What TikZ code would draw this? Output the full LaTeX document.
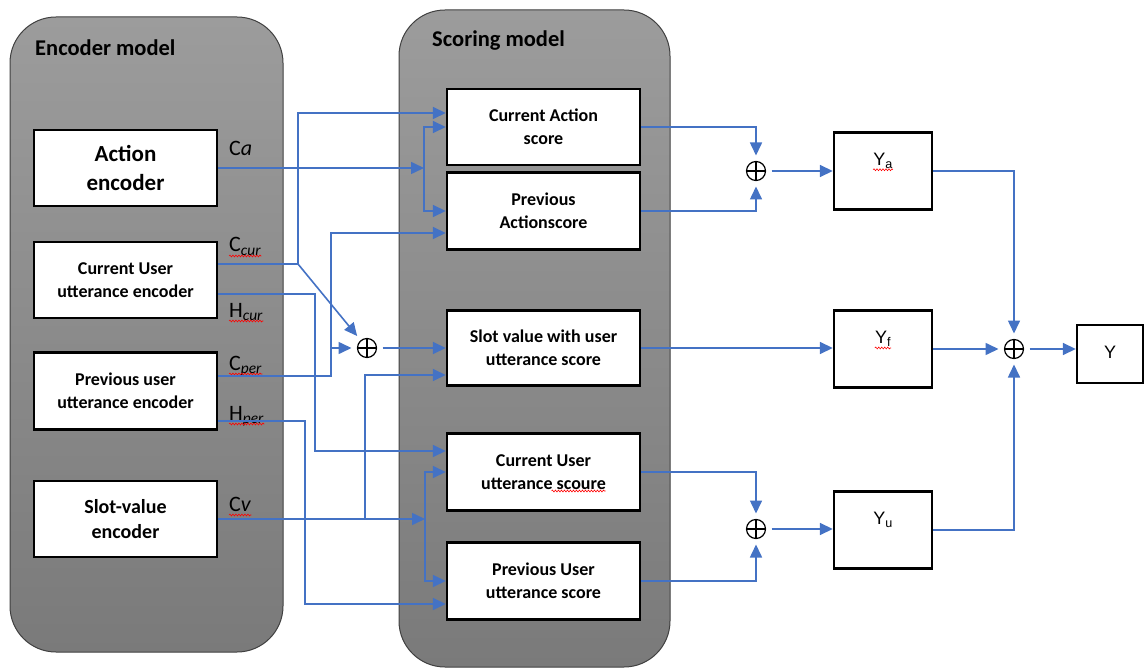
\documentclass[tikz,border=0pt]{standalone}
\usepackage{fontspec}
\setmainfont{Carlito}
\newfontfamily\arialfont{Liberation Sans}
\usetikzlibrary{arrows.meta,decorations.pathmorphing}
\definecolor{lineblue}{RGB}{68,114,196}
\definecolor{paneltop}{RGB}{156,156,156}
\definecolor{panelbot}{RGB}{122,122,122}

\begin{document}
\begin{tikzpicture}[x=1pt, y=-1pt,
  panel/.style = {draw=black!75, line width=1pt, rounded corners=46pt,
    top color=paneltop, bottom color=panelbot},
  title/.style = {font=\bfseries\fontsize{22.5}{24}\selectfont, inner sep=0pt, anchor=base west},
  block/.style = {draw=black, line width=2.4pt, fill=white, align=center,
    minimum width=183pt, minimum height=76pt, inner sep=0pt,
    font=\bfseries\fontsize{18}{23}\selectfont},
  score/.style = {block, minimum width=193pt},
  ybox/.style = {draw=black, line width=2.4pt, fill=white,
    minimum width=98pt, minimum height=77pt, inner sep=0pt},
  ytext/.style = {font=\arialfont\fontsize{18}{18}\selectfont, yshift=10pt, inner sep=0pt},
  tag/.style = {anchor=base west, inner sep=0pt, font=\fontsize{22}{22}\selectfont},
  sumnode/.style = {circle, draw=black, line width=1.2pt, minimum size=19pt,
    inner sep=0pt, outer sep=6pt,
    path picture={\draw[line width=1.2pt]
      (path picture bounding box.north) -- (path picture bounding box.south)
      (path picture bounding box.west) -- (path picture bounding box.east);}},
  wire/.style = {draw=lineblue, line width=1.6pt},
  flow/.style = {wire, -{Triangle[length=13pt,width=12pt]}},
  spell/.style = {draw=red, line width=0.6pt, decorate,
    decoration={snake, amplitude=0.9pt, segment length=3pt}}]

\useasboundingbox (0,0) rectangle (1145,668);

% containers
\draw[panel] (10,17) rectangle (283,652);
\draw[panel] (399,10) rectangle (670,667);
\node[title] (enctitle) at (35,56) {Encoder model};
\node[title] (scotitle) at (432,47) {Scoring model};

% encoders
\node[block, font=\bfseries\fontsize{23}{29}\selectfont] (aenc) at (125.5,168) {Action\\encoder};
\node[block] (cuenc) at (125.5,280) {Current User\\utterance encoder};
\node[block, minimum height=77pt] (puenc) at (125.5,391) {Previous user\\utterance encoder};
\node[block, font=\bfseries\fontsize{20}{25}\selectfont] (svenc) at (125.5,519) {Slot-value\\encoder};

% scores
\node[score] (cas) at (543.5,127) {Current Action\\score};
\node[score, minimum height=77pt] (pas) at (543.5,211) {Previous\\Actionscore};
\node[score, minimum height=75pt] (svs) at (543.5,348) {Slot value with user\\utterance score};
\node[score, minimum height=77pt] (cus) at (543.5,472) {Current User\\utterance scoure};
\node[score, minimum height=77pt] (pus) at (543.5,581) {Previous User\\utterance score};

% outputs
\node[ybox, label={[ytext, name=yalbl]center:Y\textsubscript{a}}] (ya) at (883,171) {};
\node[ybox, label={[ytext, name=yflbl]center:Y\textsubscript{f}}] (yf) at (883,349) {};
\node[ybox, label={[ytext]center:Y\textsubscript{u}}] (yu) at (883,530) {};
\node[ybox, minimum width=66pt, minimum height=58pt,
  font=\arialfont\fontsize{18}{18}\selectfont] (yall) at (1110,354) {\raisebox{4pt}{Y}};

% sums
\node[sumnode] (plusS) at (367,348) {};
\node[sumnode] (plusA) at (756,171) {};
\node[sumnode] (plusU) at (756,529) {};
\node[sumnode] (plusY) at (1014,349) {};

% encoder outputs
\node[tag] (calbl) at (229,156) {C\textit{a}};
\node[tag] (ccurlbl) at (229,252) {C\textsubscript{\textit{cur}}};
\node[tag] (hcurlbl) at (229,317) {H\textsubscript{\textit{cur}}};
\node[tag] (cperlbl) at (229,370) {C\textsubscript{\textit{per}}};
\node[tag] (hperlbl) at (229,420) {H\textsubscript{\textit{per}}};
\node[tag] (cvlbl) at (229,511) {C\textit{v}};

% spelling marks
\foreach \lbl in {ccurlbl,hcurlbl,cperlbl,hperlbl,cvlbl}
  \draw[spell] ([yshift=-4pt]\lbl.base west) -- ([yshift=-4pt]\lbl.base east);
\foreach \lbl in {yalbl,yflbl}
  \draw[spell] ([yshift=-1pt]\lbl.south west) -- ([yshift=-1pt]\lbl.south east);
\draw[spell] ([xshift=8pt,yshift=-19pt]cus.center) -- ([xshift=62pt,yshift=-19pt]cus.center);

\coordinate (cajn) at (424,168);
\coordinate (ccurj) at (298,264);
\coordinate (hcurbus) at (315,400);
\coordinate (cperbus) at (331,348);
\coordinate (hperbus) at (305,500);
\coordinate (cvjn) at (425,519);
\coordinate (cvbr) at (365,519);

\draw[flow] (aenc.east) -- (cajn);
\draw[flow] (cajn) |- (cas.west);
\draw[flow] (cajn) |- (pas.west);

\draw[wire] ([yshift=16pt]cuenc.east) -- (ccurj);
\draw[flow] (ccurj) |- ([yshift=14pt]cas.west);
\draw[flow] (ccurj) -- (plusS);
\draw[flow] ([yshift=-14pt]cuenc.east) -| (hcurbus) |- ([yshift=21pt]cus.west);

\draw[flow] ([yshift=15pt]puenc.east) -| (cperbus) |- ([yshift=-22pt]pas.west);
\draw[flow] (cperbus) -- (plusS);
\draw[flow] ([yshift=-30pt]puenc.east) -| (hperbus) |- ([yshift=-23pt]pus.west);

\draw[flow] (svenc.east) -- (cvjn);
\draw[flow] (cvjn) |- (cus.west);
\draw[flow] (cvjn) |- (pus.west);
\draw[flow] (cvbr) |- ([yshift=-27pt]svs.west);

\draw[flow] (plusS) -- (svs.west);

% scores to outputs
\draw[flow] (cas.east) -| (plusA);
\draw[flow] (pas.east) -| (plusA);
\draw[flow] (plusA) -- (plusA -| ya.west);
\draw[flow] (svs.east) -- (svs.east -| yf.west);
\draw[flow] (cus.east) -| (plusU);
\draw[flow] (pus.east) -| (plusU);
\draw[flow] (plusU) -- (plusU -| yu.west);

\draw[flow] (ya.east) -| (plusY);
\draw[flow] (yf.east) -- (plusY);
\draw[flow] (yu.east) -| (plusY);
\draw[flow] (plusY) -- (plusY -| yall.west);

\end{tikzpicture}
\end{document}
